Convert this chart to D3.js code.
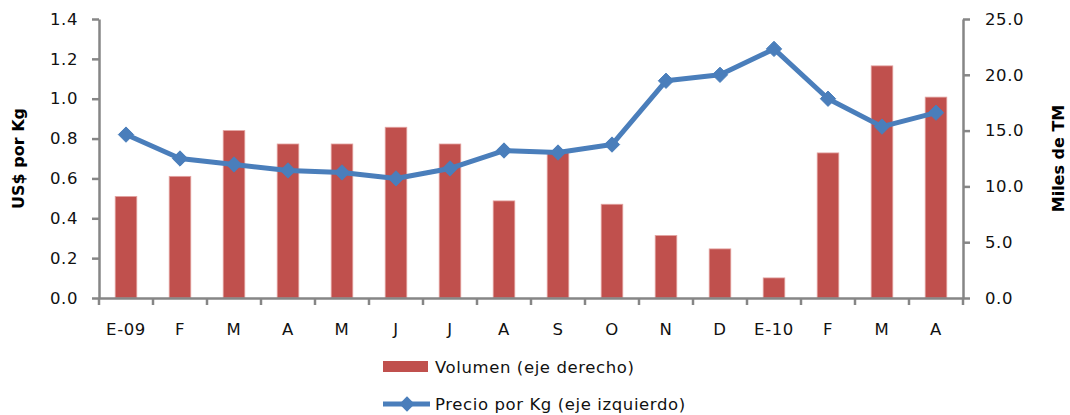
<!DOCTYPE html>
<html>
<head>
<meta charset="utf-8">
<script src="https://cdn.jsdelivr.net/npm/d3@7"></script>
<style>
  body { margin: 0; background: #fff; }
  svg { display: block; font-family: "DejaVu Sans", Verdana, sans-serif; }
</style>
</head>
<body>
<div id="chart"></div>
<script>
// categorias (meses)
const meses = ["E-09", "F", "M", "A", "M", "J", "J", "A", "S", "O", "N", "D", "E-10", "F", "M", "A"];
// volumen, miles de TM (eje derecho)
const volumen = [9.1, 10.9, 15.0, 13.8, 13.8, 15.3, 13.8, 8.7, 13.2, 8.4, 5.6, 4.4, 1.8, 13.0, 20.8, 18.0];
// precio US$ por Kg (eje izquierdo)
const precio = [0.82, 0.70, 0.67, 0.64, 0.63, 0.60, 0.65, 0.74, 0.73, 0.77, 1.09, 1.12, 1.25, 1.00, 0.86, 0.93];
const ticksIzq = [0, 0.2, 0.4, 0.6, 0.8, 1.0, 1.2, 1.4];
const ticksDer = [0, 5, 10, 15, 20, 25];

const width = 1070, height = 415;
const area = {left: 99, right: 963, top: 19, bottom: 298};
const gris = "#868686";
const fs = 16.5, ls = 0.6;

const svg = d3.select("#chart").append("svg")
    .attr("width", width)
    .attr("height", height);

const x = d3.scaleBand().domain(d3.range(meses.length)).range([area.left, area.right]);
const yIzq = d3.scaleLinear().domain([0, 1.4]).range([area.bottom, area.top]);
const yDer = d3.scaleLinear().domain([0, 25]).range([area.bottom, area.top]);

// barras
svg.append("g")
  .selectAll("rect")
  .data(volumen)
  .join("rect")
    .attr("x", (d, i) => x(i) + x.bandwidth() * 0.3)
    .attr("y", d => yDer(d))
    .attr("width", x.bandwidth() * 0.4)
    .attr("height", d => yDer(0) - yDer(d))
    .attr("fill", "#C0504D")
    .attr("stroke", "#e3a3a1")
    .attr("stroke-width", 0.8);

// eje izquierdo
const ejeIzq = svg.append("g")
    .attr("transform", `translate(${area.left},0)`)
    .call(d3.axisLeft(yIzq).tickValues(ticksIzq).tickFormat(d3.format(".1f")).tickSize(7).tickPadding(14).tickSizeOuter(0));

// eje derecho
const ejeDer = svg.append("g")
    .attr("transform", `translate(${area.right},0)`)
    .call(d3.axisRight(yDer).tickValues(ticksDer).tickFormat(d3.format(".1f")).tickSize(7).tickPadding(15).tickSizeOuter(0));

// eje inferior: etiquetas centradas, marcas en los limites
const ejeX = svg.append("g")
    .attr("transform", `translate(0,${area.bottom})`)
    .call(d3.axisBottom(x).tickFormat(i => meses[i]).tickSize(0).tickPadding(25).tickSizeOuter(0));
const limites = d3.range(meses.length).map(i => x(i)).concat([area.right]);
ejeX.selectAll(".lim")
  .data(limites)
  .join("line")
    .attr("class", "lim")
    .attr("x1", d => d).attr("x2", d => d)
    .attr("y1", 0).attr("y2", 7);

[ejeIzq, ejeDer, ejeX].forEach(g => {
  g.selectAll("path.domain").attr("stroke", gris).attr("stroke-width", 2.5);
  g.selectAll("line").attr("stroke", gris).attr("stroke-width", 2.5);
  g.selectAll("text").attr("font-size", fs).attr("fill", "#111")
    .attr("letter-spacing", ls)
    .attr("font-family", "DejaVu Sans, Verdana, sans-serif");
});

// linea de precio
const linea = d3.line()
    .x((d, i) => x(i) + x.bandwidth() / 2)
    .y(d => yIzq(d));
svg.append("path")
    .datum(precio)
    .attr("d", linea)
    .attr("fill", "none")
    .attr("stroke", "#4A7EBB")
    .attr("stroke-width", 5)
    .attr("stroke-linejoin", "round");

const diamante = d3.symbol().type(d3.symbolDiamond2).size(150);
svg.append("g")
  .selectAll("path")
  .data(precio)
  .join("path")
    .attr("transform", (d, i) => `translate(${x(i) + x.bandwidth() / 2},${yIzq(d)})`)
    .attr("d", diamante)
    .attr("fill", "#4A7EBB")
    .attr("stroke", "#4A7EBB")
    .attr("stroke-width", 1);

// titulos de ejes
svg.append("text")
    .attr("transform", `translate(24,${(area.top + area.bottom) / 2}) rotate(-90)`)
    .attr("text-anchor", "middle")
    .attr("font-size", 16)
    .attr("font-weight", "bold")
    .text("US$ por Kg");
svg.append("text")
    .attr("transform", `translate(1064,${(area.top + area.bottom) / 2}) rotate(-90)`)
    .attr("text-anchor", "middle")
    .attr("font-size", 16)
    .attr("font-weight", "bold")
    .text("Miles de TM");

// leyenda
const leyenda = svg.append("g").attr("font-size", fs).attr("letter-spacing", ls).attr("fill", "#111");
leyenda.append("rect")
    .attr("x", 383).attr("y", 361).attr("width", 45).attr("height", 11)
    .attr("fill", "#C0504D");
leyenda.append("text")
    .attr("x", 435).attr("y", 367).attr("dy", "0.35em")
    .text("Volumen (eje derecho)");
leyenda.append("line")
    .attr("x1", 383).attr("x2", 430).attr("y1", 404).attr("y2", 404)
    .attr("stroke", "#4A7EBB").attr("stroke-width", 5);
leyenda.append("path")
    .attr("transform", "translate(407,404)")
    .attr("d", diamante)
    .attr("fill", "#4A7EBB");
leyenda.append("text")
    .attr("x", 435).attr("y", 404).attr("dy", "0.35em")
    .text("Precio por Kg (eje izquierdo)");
</script>
</body>
</html>
